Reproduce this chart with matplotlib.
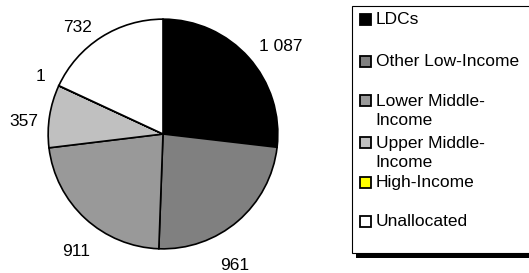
import numpy as np
import matplotlib.pyplot as plt
from matplotlib.patches import Rectangle

plt.rcParams['font.family'] = ['Liberation Sans', 'DejaVu Sans']

categories = ['LDCs', 'Other Low-Income', 'Lower Middle-\nIncome',
              'Upper Middle-\nIncome', 'High-Income', 'Unallocated']
values = [1087, 961, 911, 357, 1, 732]
value_labels = ['1 087', '961', '911', '357', '1', '732']
colors = ['#000000', '#808080', '#999999', '#c0c0c0', '#ffff00', '#ffffff']

W, H = 529, 273
fig = plt.figure(figsize=(W / 100, H / 100), dpi=100)

# pie axes: centre ~(163,134) px, radius ~116 px
cx, cy, r = 163, 134, 116
ax = fig.add_axes([(cx - r) / W, (H - cy - r) / H, 2 * r / W, 2 * r / H])
ax.axis('off')

wedges, _ = ax.pie(values, colors=colors, startangle=90, counterclock=False,
                   radius=1, wedgeprops=dict(edgecolor='black', linewidth=1.2))
ax.set_aspect('equal')
ax.set_xlim(-1.01, 1.01)
ax.set_ylim(-1.01, 1.01)

# label placement, slightly nudged like the excel chart
nudge = [-5, -12, 6, 4, 0, 6]
dist = [1.28, 1.30, 1.27, 1.22, 1.18, 1.19]
for w, lab, dn, d in zip(wedges, value_labels, nudge, dist):
    ang = np.deg2rad((w.theta1 + w.theta2) / 2 + dn)
    ax.text(d * np.cos(ang), d * np.sin(ang), lab, ha='center', va='center',
            fontsize=12.5, clip_on=False)

# legend box with shadow
lx0, ly0, lx1, ly1 = 352, 6, 532, 253
fig.patches.append(Rectangle(((lx0 + 4) / W, (H - ly1 - 5) / H), (lx1 - lx0) / W, 5 / H,
                             transform=fig.transFigure, facecolor='black',
                             edgecolor='none'))
fig.patches.append(Rectangle((lx0 / W, (H - ly1) / H), (lx1 - lx0) / W, (ly1 - ly0) / H,
                             transform=fig.transFigure, facecolor='white',
                             edgecolor='black', linewidth=0.8))

rows = [19, 61, 100, 142, 182, 221]
for cat, col, y in zip(categories, colors, rows):
    fig.patches.append(Rectangle((360 / W, (H - y - 5.5) / H), 11 / W, 11 / H,
                                 transform=fig.transFigure, facecolor=col,
                                 edgecolor='black', linewidth=1.3))
    yt = y + 11 if '\n' in cat else y
    fig.text(375.5 / W, (H - yt) / H, cat, ha='left', va='center',
             fontsize=12.5, linespacing=1.27)

fig.savefig('out.png', dpi=100)
